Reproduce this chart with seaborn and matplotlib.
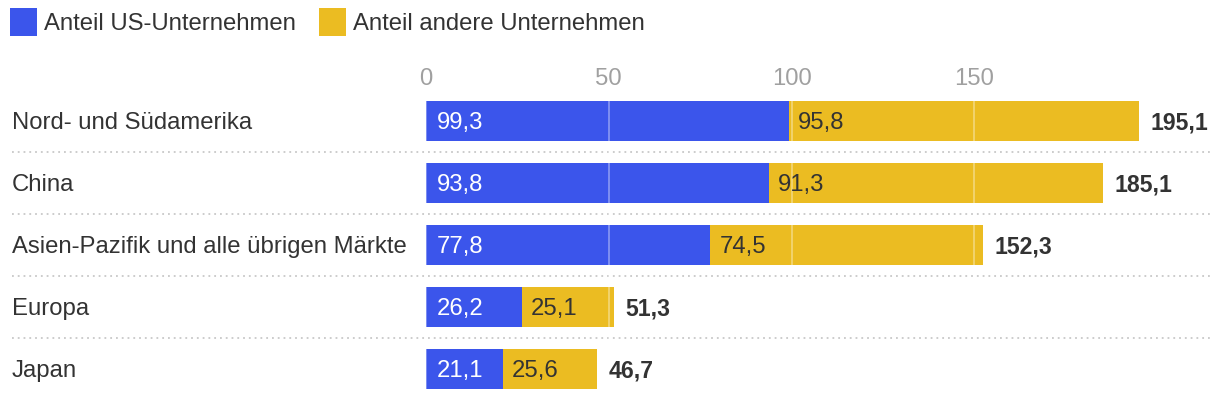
import matplotlib
matplotlib.use("Agg")
import matplotlib.pyplot as plt
import matplotlib.transforms as mtransforms
from matplotlib.patches import Patch
import seaborn as sns
import pandas as pd

# ---- data ----
categories = ["Nord- und Südamerika", "China", "Asien-Pazifik und alle übrigen Märkte", "Europa", "Japan"]
us_share = [99.3, 93.8, 77.8, 26.2, 21.1]
other_share = [95.8, 91.3, 74.5, 25.1, 25.6]
series_names = ["Anteil US-Unternehmen", "Anteil andere Unternehmen"]
x_ticks = [0, 50, 100, 150]

totals = [round(a + b, 1) for a, b in zip(us_share, other_share)]
df = pd.DataFrame({"cat": categories, "us": us_share, "other": other_share, "total": totals})

def fmt(v):
    return f"{v:.1f}".replace(".", ",")

BLUE = "#3B55EB"
YELLOW = "#EBBC22"
DARK = "#333333"
FS = 17.2
BASE_DY = -6.0  # baseline offset (points) below row centre

sns.set_theme(style="white")
plt.rcParams["font.family"] = ["Liberation Sans", "DejaVu Sans"]

W, H = 1220, 400
fig = plt.figure(figsize=(W / 100, H / 100), dpi=100)
left_px, right_px = 426, 1212
top_px, bot_px = 90, 400
ax = fig.add_axes([left_px / W, 1 - bot_px / H, (right_px - left_px) / W, (bot_px - top_px) / H])

bw = 0.645
sns.barplot(data=df, y="cat", x="total", orient="h", color=YELLOW, width=bw,
            saturation=1, ax=ax, zorder=2, linewidth=0)
sns.barplot(data=df, y="cat", x="us", orient="h", color=BLUE, width=bw,
            saturation=1, ax=ax, zorder=3, linewidth=0)

xmax = (right_px - left_px) / 3.655
ax.set_xlim(0, xmax)
ax.set_ylim(len(categories) - 0.5, -0.5)
for s in ax.spines.values():
    s.set_visible(False)
ax.set_xlabel("")
ax.set_ylabel("")
ax.xaxis.tick_top()
ax.set_xticks(x_ticks)
ax.set_xticklabels([str(t) for t in x_ticks])
ax.tick_params(axis="x", length=0, pad=0, labelsize=FS, labelcolor="#A0A0A0")
ax.tick_params(axis="y", left=False, labelleft=False)
ax.grid(False)

# light gridlines drawn over the bars
for t in x_ticks:
    ax.axvline(t, color="white", alpha=0.4, lw=1.2, zorder=4)

# row separators (dotted)
trans = mtransforms.blended_transform_factory(fig.transFigure, ax.transData)
for i in range(len(categories) - 1):
    ax.plot([12 / W, 1210 / W], [i + 0.5, i + 0.5], transform=trans, color="#C8C8C8",
            lw=1.3, linestyle=(0, (1, 2.2)), clip_on=False, zorder=1)

# category labels
for i, c in enumerate(categories):
    ax.annotate(c, xy=(12 / W, i), xycoords=trans, xytext=(0, BASE_DY), textcoords="offset points",
                ha="left", va="baseline", fontsize=FS, color=DARK, annotation_clip=False)

# value labels
for i, (u, o, t) in enumerate(zip(us_share, other_share, totals)):
    ax.annotate(fmt(u), xy=(0, i), xytext=(7.5, BASE_DY), textcoords="offset points",
                ha="left", va="baseline", fontsize=FS, color="white", zorder=5)
    ax.annotate(fmt(o), xy=(u, i), xytext=(6.5, BASE_DY), textcoords="offset points",
                ha="left", va="baseline", fontsize=FS, color=DARK, zorder=5)
    ax.annotate(fmt(t), xy=(t, i), xytext=(8.5, BASE_DY), textcoords="offset points",
                ha="left", va="baseline", fontsize=16.6, color=DARK, fontweight="bold",
                zorder=5, annotation_clip=False)

# legend
handles = [Patch(facecolor=BLUE, edgecolor="none"), Patch(facecolor=YELLOW, edgecolor="none")]
fig.legend(handles, series_names, loc="upper left", bbox_to_anchor=(10 / W, 1 - 8 / H),
           ncol=2, frameon=False, fontsize=FS, handlelength=1.13, handleheight=1.45,
           handletextpad=0.3, columnspacing=0.95, borderpad=0, borderaxespad=0,
           labelcolor=DARK)

fig.savefig("out.png", dpi=100)
